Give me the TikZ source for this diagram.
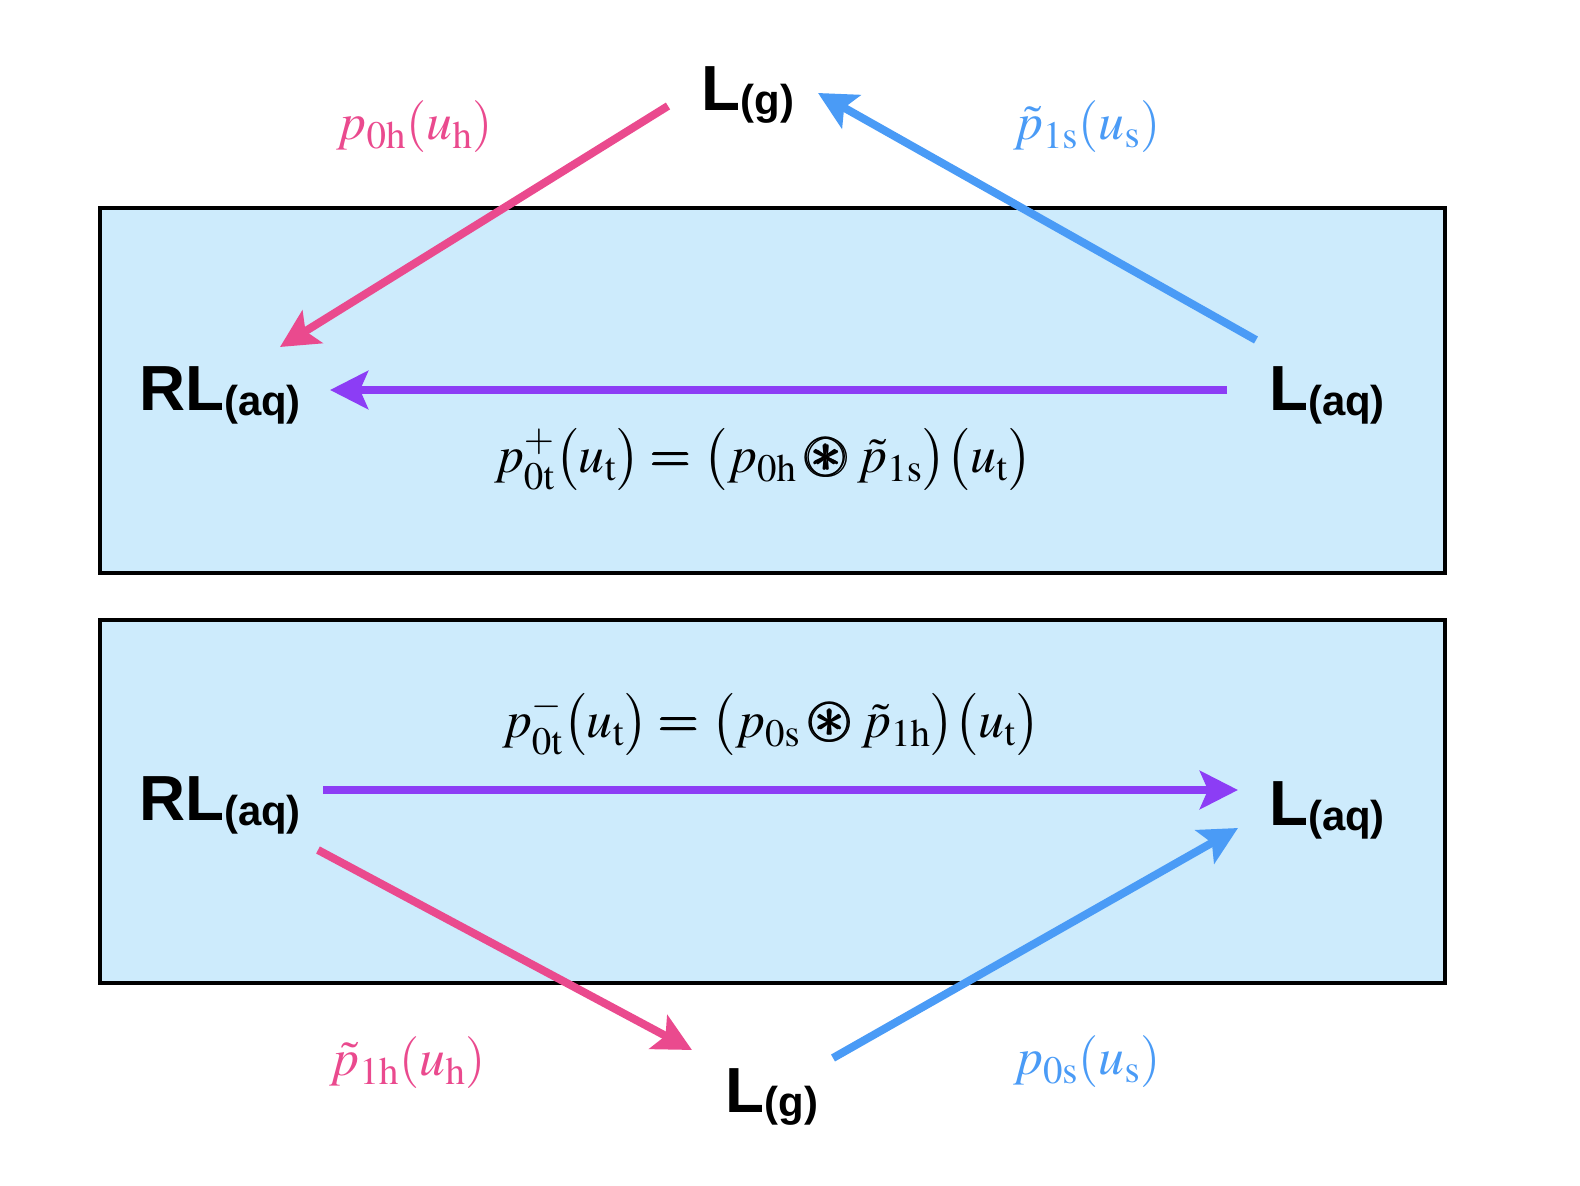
\documentclass[tikz,border=0pt]{standalone}
\usepackage{amsmath,amssymb,graphicx}
\usepackage{mathptmx}
\usepackage{fontspec}
\setsansfont{Liberation Sans}
\usetikzlibrary{arrows.meta}
\DeclareMathSizes{26}{26}{19.5}{15}
\definecolor{cpink}{HTML}{EA4A8E}
\definecolor{cblue}{HTML}{4A9BF6}
\definecolor{cpurple}{HTML}{8C3DF5}
\definecolor{cfill}{HTML}{CDEBFC}
\newcommand{\spec}[2]{{\fontsize{32}{32}\sffamily\bfseries #1\raisebox{-2.5pt}{\fontsize{21}{21}\selectfont(#2)}}}
\newcommand{\cast}{\mathbin{\pmb{\scalebox{1.15}{$\circledast$}}}}
\newcommand{\eqs}{\mathrel{\pmb{=}}}
\tikzset{
  box/.style={draw=black, line width=2bp, fill=cfill},
  spnode/.style={inner sep=0pt, anchor=center},
  conn/.style={line width=4bp, -{Stealth[length=19bp,width=19bp,inset=4bp]}},
  lab/.style={inner sep=0pt, font=\fontsize{26}{26}\selectfont},
}
\begin{document}
\begin{tikzpicture}[x=0.5bp,y=-0.5bp]
\useasboundingbox (0,0) rectangle (1580,1186);
% boxes
\draw[box] (100,208) rectangle (1445,573);
\draw[box] (100,620) rectangle (1445,983);
% nodes
\node[spnode] (g1) at (748,95) {\spec{L}{g}};
\node[spnode] (rl1) at (220,395) {\spec{RL}{aq}};
\node[spnode] (l1) at (1327,395) {\spec{L}{aq}};
\node[spnode] (rl2) at (220,805) {\spec{RL}{aq}};
\node[spnode] (l2) at (1327,810) {\spec{L}{aq}};
\node[spnode] (g2) at (772,1097) {\spec{L}{g}};
% connector endpoints
\coordinate (a1s) at (668,106); \coordinate (a1e) at (280,347);
\coordinate (b1s) at (1256,340); \coordinate (b1e) at (818,93);
\coordinate (c1s) at (1227,390); \coordinate (c1e) at (330,390);
\coordinate (c2s) at (323,790); \coordinate (c2e) at (1238,790);
\coordinate (a2s) at (318,850); \coordinate (a2e) at (692,1050);
\coordinate (b2s) at (833,1058); \coordinate (b2e) at (1238,828);
\draw[conn, cpink] (a1s) -- (a1e);
\draw[conn, cblue] (b1s) -- (b1e);
\draw[conn, cpurple] (c1s) -- (c1e);
\draw[conn, cpurple] (c2s) -- (c2e);
\draw[conn, cpink] (a2s) -- (a2e);
\draw[conn, cblue] (b2s) -- (b2e);
% labels
\node[lab, text=cpink] (la1) at (415,127) {$p_{\mathrm{0h}}(u_{\mathrm{h}})$};
\node[lab, text=cblue] (lb1) at (1087,127) {$\tilde{p}_{\mathrm{1s}}(u_{\mathrm{s}})$};
\node[lab] (eq1) at (763,460) {$p_{\mathrm{0t}}^{+}\big(u_{\mathrm{t}}\big) \eqs \big(p_{\mathrm{0h}} \cast \tilde{p}_{\mathrm{1s}}\big)\big(u_{\mathrm{t}}\big)$};
\node[lab] (eq2) at (771,725) {$p_{\mathrm{0t}}^{-}\big(u_{\mathrm{t}}\big) \eqs \big(p_{\mathrm{0s}} \cast \tilde{p}_{\mathrm{1h}}\big)\big(u_{\mathrm{t}}\big)$};
\node[lab, text=cpink] (la2) at (408,1063) {$\tilde{p}_{\mathrm{1h}}(u_{\mathrm{h}})$};
\node[lab, text=cblue] (lb2) at (1087,1062) {$p_{\mathrm{0s}}(u_{\mathrm{s}})$};
\end{tikzpicture}
\end{document}
